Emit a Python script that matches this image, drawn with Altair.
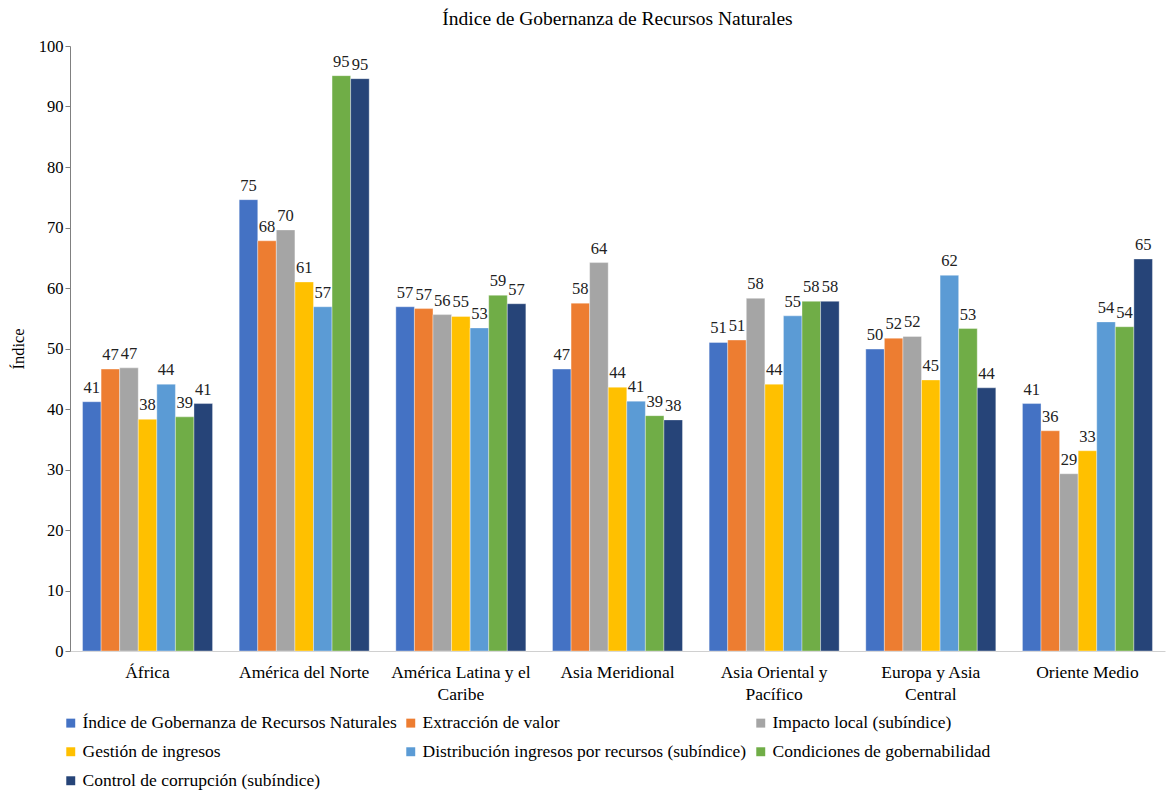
import altair as alt
import pandas as pd

regions = ["África", "América del Norte", "América Latina y el|Caribe", "Asia Meridional",
           "Asia Oriental y|Pacífico", "Europa y Asia|Central", "Oriente Medio"]
series = ["Índice de Gobernanza de Recursos Naturales", "Extracción de valor",
          "Impacto local (subíndice)", "Gestión de ingresos",
          "Distribución ingresos por recursos (subíndice)", "Condiciones de gobernabilidad",
          "Control de corrupción (subíndice)"]
colors = ["#4472C4", "#ED7D31", "#A5A5A5", "#FFC000", "#5B9BD5", "#70AD47", "#264478"]

indice = [41.2, 74.6, 56.9, 46.6, 51.0, 49.9, 40.9]
extraccion = [46.6, 67.8, 56.6, 57.5, 51.4, 51.7, 36.4]
impacto = [46.8, 69.6, 55.6, 64.2, 58.3, 52.0, 29.3]
gestion = [38.3, 61.0, 55.3, 43.6, 44.1, 44.8, 33.1]
distribucion = [44.1, 56.9, 53.4, 41.3, 55.4, 62.1, 54.4]
condiciones = [38.7, 95.1, 58.8, 38.9, 57.8, 53.3, 53.6]
corrupcion = [40.9, 94.6, 57.4, 38.2, 57.8, 43.5, 64.8]

all_vals = [indice, extraccion, impacto, gestion, distribucion, condiciones, corrupcion]
rows = []
for si, (s, vals) in enumerate(zip(series, all_vals)):
    for r, v in zip(regions, vals):
        rows.append({"Región": r, "Serie": s, "orden": si, "Valor": v})
df = pd.DataFrame(rows)

FONT = "Liberation Serif"

base = alt.Chart(df).encode(
    x=alt.X("Región:N", sort=regions,
            scale=alt.Scale(paddingInner=0.17, paddingOuter=0.08),
            axis=alt.Axis(title=None, labelExpr="split(datum.label, '|')", labelAngle=0,
                          labelFontSize=17.5, labelFont=FONT, labelColor="#000",
                          ticks=False, domainColor="#d0d0d0", labelPadding=12,
                          labelLineHeight=22)),
    xOffset=alt.XOffset("Serie:N", sort=series, scale=alt.Scale(paddingInner=0, paddingOuter=0)),
    y=alt.Y("Valor:Q", scale=alt.Scale(domain=[0, 100]),
            axis=alt.Axis(title="Índice", values=list(range(0, 101, 10)), grid=False,
                          labelFontSize=16.5, labelFont=FONT, labelColor="#000",
                          titleFont=FONT, titleFontSize=16.5, titleFontWeight="normal",
                          titleColor="#000", domainColor="#808080", tickColor="#808080",
                          tickSize=5, titlePadding=12)),
)

bars = base.mark_bar(stroke="white", strokeWidth=0.6, strokeOpacity=0.6).encode(
    color=alt.Color("Serie:N", sort=series,
                    scale=alt.Scale(domain=series, range=colors),
                    legend=alt.Legend(title=None, orient="none", legendX=-8, legendY=668,
                                      columns=3, direction="horizontal",
                                      symbolType="square", symbolSize=80,
                                      labelFont=FONT, labelFontSize=17.5, labelColor="#000",
                                      rowPadding=10, columnPadding=5, labelLimit=450,
                                      labelOffset=3, symbolStrokeWidth=0))
)

labels = base.mark_text(baseline="bottom", dy=-6, font=FONT, fontSize=16.5, color="#222").encode(
    text=alt.Text("Valor:Q", format=".0f")
)

chart = (bars + labels).properties(
    width=1095, height=605,
    title=alt.TitleParams("Índice de Gobernanza de Recursos Naturales", font=FONT,
                          fontSize=19.5, fontWeight="normal", color="#000", offset=9),
    padding={"left": 2, "top": 0, "right": 2, "bottom": 0},
).configure_view(stroke=None)

chart.save("out.html", embed_options={"renderer": "svg", "actions": False})
